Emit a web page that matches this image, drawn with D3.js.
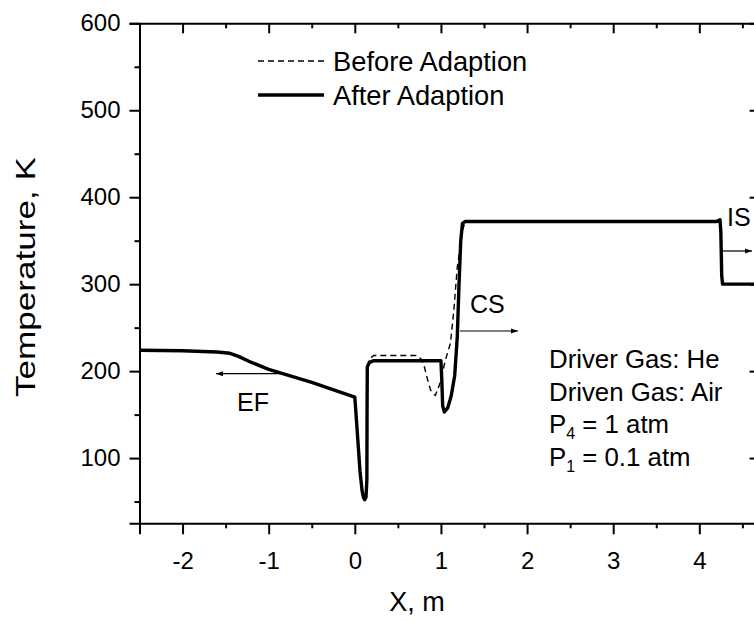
<!DOCTYPE html>
<html>
<head>
<meta charset="utf-8">
<script src="https://cdn.jsdelivr.net/npm/d3@7"></script>
<style>
  html, body { margin: 0; padding: 0; background: #fff; overflow: hidden; }
  svg { display: block; font-family: "Liberation Sans", Arial, sans-serif; }
</style>
</head>
<body>
<svg id="chart" width="754" height="622"></svg>
<script>
// Temperature profile along the shock tube (x in m, T in K)
const afterX = [-2.5, -2.0, -1.6, -1.45, -1.35, -1.2, -1.0, -0.5, 0.0, 0.03, 0.06, 0.085, 0.1, 0.115, 0.13, 0.14, 0.142, 0.145, 0.17, 0.22, 1.0, 1.01, 1.02, 1.04, 1.08, 1.12, 1.16, 1.19, 1.21, 1.23, 1.25, 1.28, 4.2, 4.24, 4.25, 4.26, 4.27, 4.7];
const afterT = [224, 223.5, 222, 220.5, 217, 210, 202, 187, 170, 128, 85, 62, 55, 52, 55, 75, 150, 205, 210, 212, 212, 190, 160, 153, 158, 172, 195, 240, 300, 350, 370, 372, 372, 374, 360, 310, 300, 300];

const beforeX = [-2.5, -2.0, -1.6, -1.45, -1.35, -1.2, -1.0, -0.5, 0.0, 0.03, 0.06, 0.085, 0.1, 0.115, 0.13, 0.14, 0.142, 0.145, 0.17, 0.22, 0.72, 0.77, 0.8, 0.84, 0.88, 0.935, 0.99, 1.05, 1.11, 1.15, 1.19, 1.22, 1.25, 1.28, 1.32, 4.2, 4.24, 4.25, 4.26, 4.27, 4.7];
const beforeT = [224, 223.5, 222, 220.5, 217, 210, 202, 187, 170, 128, 85, 62, 55, 52, 55, 75, 150, 205, 214, 218, 218, 214, 208, 192, 178, 172, 186, 212, 232, 270, 320, 340, 362, 371, 372, 372, 374, 360, 310, 300, 300];

const xMajorTicks = [-2, -1, 0, 1, 2, 3, 4];
const yMajorTicks = [100, 200, 300, 400, 500, 600];
const xDomain = [-2.5, 4.7];
const yDomain = [25, 600];

const legendLabels = ["Before Adaption", "After Adaption"];
const conditionLines = ["Driver Gas: He", "Driven Gas: Air"];

const svg = d3.select("#chart");
const plotLeft = 139.5, plotRight = 759.6, plotTop = 23.3, plotBottom = 523.3;

const x = d3.scaleLinear().domain(xDomain).range([plotLeft, plotRight]);
const y = d3.scaleLinear().domain(yDomain).range([plotBottom, plotTop]);

const xMinor = d3.range(-2.5, 4.71, 0.5).filter(v => !xMajorTicks.some(t => Math.abs(t - v) < 1e-9));
const yMinor = d3.range(50, 601, 50).filter(v => v % 100 !== 0);

// Arrowhead marker
svg.append("defs").append("marker")
  .attr("id", "arrow")
  .attr("viewBox", "0 0 10 10")
  .attr("refX", 10).attr("refY", 5)
  .attr("markerWidth", 9).attr("markerHeight", 7)
  .attr("markerUnits", "userSpaceOnUse")
  .attr("orient", "auto")
  .append("path").attr("d", "M0,1.5 L10,5 L0,8.5 Z").attr("fill", "#000");

const tickFont = 24, textFont = 25;

// Axes: bottom/left ticks point out, top/right ticks point in
function styleAxis(g) {
  g.select(".domain").attr("stroke", "#000").attr("stroke-width", 2);
  g.selectAll(".tick line").attr("stroke", "#000").attr("stroke-width", 2);
  g.selectAll("text").attr("fill", "#000").style("font-size", tickFont + "px")
    .style("font-family", '"Liberation Sans", Arial, sans-serif');
}

const gx = svg.append("g").attr("transform", `translate(0,${plotBottom})`)
  .call(d3.axisBottom(x).tickValues(xMajorTicks).tickSize(11).tickFormat(d => String(d)));
styleAxis(gx);
gx.selectAll(".tick text").attr("dy", null).attr("y", 46);
svg.append("g").attr("transform", `translate(0,${plotBottom})`)
  .call(d3.axisBottom(x).tickValues(xMinor).tickSize(5).tickFormat(""))
  .call(styleAxis).select(".domain").remove();

const gy = svg.append("g").attr("transform", `translate(${plotLeft},0)`)
  .call(d3.axisLeft(y).tickValues(yMajorTicks).tickSize(10).tickPadding(9));
styleAxis(gy);
svg.append("g").attr("transform", `translate(${plotLeft},0)`)
  .call(d3.axisLeft(y).tickValues(yMinor).tickSize(5).tickFormat(""))
  .call(styleAxis).select(".domain").remove();

const gt = svg.append("g").attr("transform", `translate(0,${plotTop})`)
  .call(d3.axisTop(x).tickValues(xMajorTicks).tickSizeInner(-10).tickSizeOuter(0).tickFormat(""));
styleAxis(gt);
svg.append("g").attr("transform", `translate(0,${plotTop})`)
  .call(d3.axisTop(x).tickValues(xMinor).tickSize(-5).tickFormat(""))
  .call(styleAxis).select(".domain").remove();

const gr = svg.append("g").attr("transform", `translate(${plotRight},0)`)
  .call(d3.axisRight(y).tickValues(yMajorTicks).tickSizeInner(-10).tickSizeOuter(0).tickFormat(""));
styleAxis(gr);

// Axis titles
svg.append("text").attr("x", 417).attr("y", 611).attr("text-anchor", "middle")
  .style("font-size", "27px").text("X, m");
svg.append("text").attr("transform", "translate(35,277) rotate(-90)")
  .attr("text-anchor", "middle").style("font-size", "28px")
  .attr("textLength", 240).attr("lengthAdjust", "spacingAndGlyphs")
  .text("Temperature, K");

// Curves
const line = d3.line().x(d => x(d[0])).y(d => y(d[1]));
const beforeData = beforeX.map((v, i) => [v, beforeT[i]]);
const afterData = afterX.map((v, i) => [v, afterT[i]]);

svg.append("path").datum(beforeData).attr("d", line)
  .attr("fill", "none").attr("stroke", "#000").attr("stroke-width", 1.4)
  .attr("stroke-dasharray", "6,4");
svg.append("path").datum(afterData).attr("d", line)
  .attr("fill", "none").attr("stroke", "#000").attr("stroke-width", 3.4)
  .attr("stroke-linejoin", "round");

// Legend
const legend = svg.append("g");
legend.append("line").attr("x1", 258).attr("x2", 327).attr("y1", 61).attr("y2", 61)
  .attr("stroke", "#000").attr("stroke-width", 1.4).attr("stroke-dasharray", "6,4");
legend.append("line").attr("x1", 258).attr("x2", 324).attr("y1", 95).attr("y2", 95)
  .attr("stroke", "#000").attr("stroke-width", 3.4);
legend.selectAll("text.lg").data(legendLabels).join("text").attr("class", "lg")
  .attr("x", 333).attr("y", (d, i) => 61 + i * 34).attr("dy", "0.35em")
  .style("font-size", "27.3px").text(d => d);

// Wave annotations
function arrow(x1, x2, yv) {
  svg.append("line").attr("x1", x1).attr("x2", x2).attr("y1", yv).attr("y2", yv)
    .attr("stroke", "#000").attr("stroke-width", 1.2).attr("marker-end", "url(#arrow)");
}
arrow(280, 216, 373.7);
svg.append("text").attr("x", 253).attr("y", 411).attr("text-anchor", "middle")
  .style("font-size", textFont + "px").text("EF");
arrow(460, 518, 331);
svg.append("text").attr("x", 470).attr("y", 313).style("font-size", textFont + "px").text("CS");
arrow(722, 752, 251);
svg.append("text").attr("x", 727).attr("y", 226).style("font-size", textFont + "px").text("IS");

// Test conditions
const cond = svg.append("g").style("font-size", "25.8px");
conditionLines.forEach((t, i) => {
  cond.append("text").attr("x", 549).attr("y", 368 + i * 32.5).text(t);
});
const p4 = cond.append("text").attr("x", 549).attr("y", 433);
p4.append("tspan").text("P");
p4.append("tspan").attr("dy", 6).style("font-size", "16px").text("4");
p4.append("tspan").attr("dy", -6).text(" = 1 atm");
const p1 = cond.append("text").attr("x", 549).attr("y", 465.5);
p1.append("tspan").text("P");
p1.append("tspan").attr("dy", 6).style("font-size", "16px").text("1");
p1.append("tspan").attr("dy", -6).text(" = 0.1 atm");
</script>
</body>
</html>
